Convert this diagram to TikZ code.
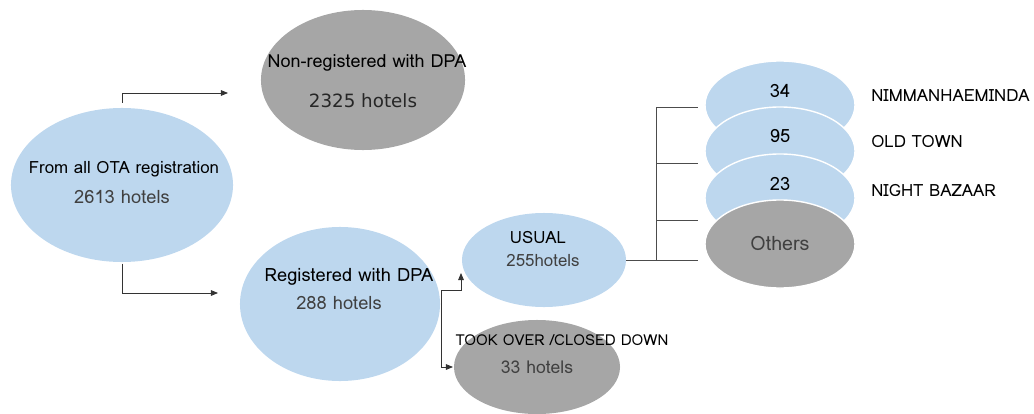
\documentclass[tikz,border=0pt]{standalone}
\usepackage{fontspec}
\setmainfont{Loma}
\newfontfamily\widefont{DejaVu Sans}
\usetikzlibrary{shapes.geometric, arrows.meta, positioning, calc}
\definecolor{paleblue}{HTML}{BDD7EE}
\definecolor{midgray}{HTML}{A6A6A6}
\definecolor{textgray}{HTML}{404040}

\begin{document}
\begin{tikzpicture}[
    x=0.025cm, y=-0.025cm,
    bubble/.style={ellipse, fill=paleblue, inner sep=0pt},
    greybubble/.style={ellipse, fill=midgray, inner sep=0pt},
    stack/.style={ellipse, draw=white, line width=1pt, inner sep=0pt,
        minimum width=3.75cm, minimum height=2.2cm},
    title/.style={font=\fontsize{12}{14}\selectfont, text=black, inner sep=0pt},
    count/.style={font=\fontsize{13}{15}\selectfont, text=textgray, inner sep=0pt},
    area/.style={font=\fontsize{12}{14}\selectfont, text=black, inner sep=0pt, anchor=west},
    link/.style={draw=black!80, line width=0.6pt, -{Triangle[length=5pt,width=4pt]}},
    tick/.style={draw=black!70, line width=0.6pt}
]
    \useasboundingbox (0,0) rectangle (1034,414);

    % Main bubbles
    \node[bubble, minimum width=5.55cm, minimum height=3.85cm] (ota) at (122,185) {};
    \node[greybubble, minimum width=5.1cm, minimum height=3.5cm] (nonreg) at (363,80) {};
    \node[bubble, minimum width=5cm, minimum height=3.85cm] (reg) at (340,304) {};
    \node[bubble, minimum width=4.1cm, minimum height=2.35cm] (usual) at (544,260) {};
    \node[greybubble, minimum width=4.15cm, minimum height=2.35cm] (closed) at (537,367) {};

    % Stacked area bubbles
    \node[stack, fill=paleblue] (nimman) at (780,105) {};
    \node[stack, fill=paleblue] (oldtown) at (780,151) {};
    \node[stack, fill=paleblue] (bazaar) at (780,198) {};
    \node[stack, fill=midgray] (others) at (780,244) {};

    % Texts
    \node[title] (otaT) at (124,169) {From all OTA registration};
    \node[count] (otaN) at (122,197) {2613 hotels};
    \node[title, font=\fontsize{12.8}{14}\selectfont] (nonregT) at (367,63) {Non-registered with DPA};
    \node[count, font=\widefont\fontsize{13}{15}\selectfont, text=black!85] (nonregN) at (363,101) {2325 hotels};
    \node[title, font=\fontsize{13}{15}\selectfont] (regT) at (349,277) {Registered with DPA};
    \node[count] (regN) at (339,303) {288 hotels};
    \node[title] (usualT) at (538,237) {USUAL};
    \node[count, font=\fontsize{12}{14}\selectfont] (usualN) at (543,260) {255hotels};
    \node[title, font=\fontsize{10.7}{12}\selectfont] (closedT) at (562,340) {TOOK OVER /CLOSED DOWN};
    \node[count, font=\fontsize{12.5}{14}\selectfont] (closedN) at (537,367) {33 hotels};

    \node[title, font=\fontsize{13}{15}\selectfont] (nimmanN) at (780,91) {34};
    \node[title, font=\fontsize{13}{15}\selectfont] (oldtownN) at (780,136) {95};
    \node[title, font=\fontsize{13}{15}\selectfont] (bazaarN) at (780,184) {23};
    \node[title, font=\fontsize{14}{16}\selectfont, text=textgray] (othersT) at (780,243) {Others};

    \node[area] (nimmanL) at (871,96) {NIMMANHAEMINDA};
    \node[area] (oldtownL) at (871,141) {OLD TOWN};
    \node[area] (bazaarL) at (871,190) {NIGHT BAZAAR};

    % Arrows
    \coordinate (toNon) at (228,93);
    \coordinate (toReg) at (218,293);
    \coordinate (split) at (441,290);
    \coordinate (toUsual) at (461,273);
    \coordinate (toClosed) at (453,367);
    \draw[link] ([yshift=1.25mm]ota.north) |- (toNon);
    \draw[link] ([yshift=-0.3mm]ota.south) |- (toReg);
    \draw[link] (split) -| (toUsual);
    \draw[link] (split) |- (toClosed);

    % Bracket to the areas
    \draw[tick] (usual.east) -- (656,260) -- (656,107);
    \foreach \yy in {107,163,220,260}
        \draw[tick] (656,\yy) -- (698,\yy);
\end{tikzpicture}
\end{document}
